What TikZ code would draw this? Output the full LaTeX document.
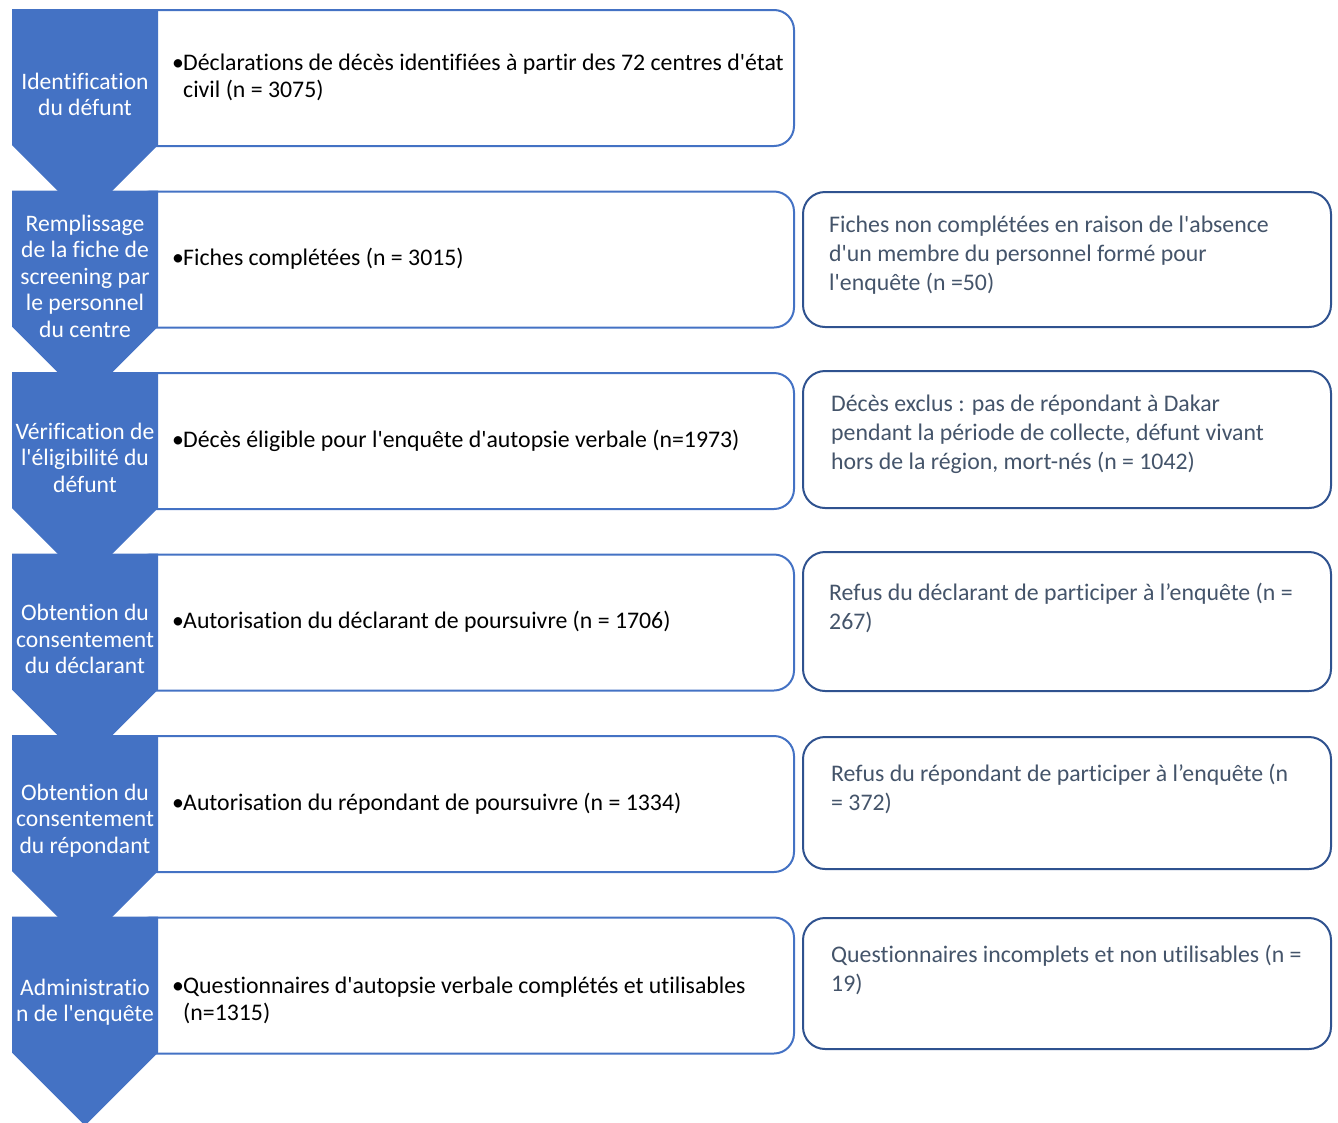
\documentclass[tikz,border=0pt]{standalone}
\usepackage{fontspec}
\setmainfont{Carlito}[Ligatures={TeXOff,NoCommon}]
\usetikzlibrary{positioning,calc}
\definecolor{chevblue}{RGB}{68,114,196}
\definecolor{darkblue}{RGB}{47,82,143}
\definecolor{slate}{RGB}{68,84,106}
\newcommand{\bitem}[1]{\makebox[11pt][l]{\textbullet}\begin{tabular}[t]{@{}l@{}}#1\end{tabular}}

\begin{document}
\begin{tikzpicture}[x=1pt, y=-1pt,
    chevron/.style={fill=chevblue, draw=none},
    steplabel/.style={text=white, align=center, inner sep=0pt, font=\fontsize{23.6}{26.5}\selectfont},
    stepbox/.style={draw=chevblue, line width=2pt, fill=white, rounded corners=20pt, anchor=north west, minimum width=663, minimum height=136},
    itemtext/.style={anchor=west, inner sep=0pt, font=\fontsize{23.8}{27}\selectfont},
    exclbox/.style={draw=darkblue, line width=2pt, fill=white, rounded corners=22pt, anchor=north west, minimum width=528},
    excltext/.style={anchor=north west, align=left, inner sep=0pt, text=slate, font=\fontsize{23.8}{29}\selectfont}
]
\useasboundingbox (0,0) rectangle (1338,1122);

% boites de gauche (le bord gauche passe sous les chevrons)
\foreach \t [count=\i] in {9,190.5,372,553.5,735,916.5}
  \node[stepbox] (box\i) at (130,\t) {};

% boites d'exclusion
\node[exclbox, minimum height=135] (excl2) at (802,191) {};
\node[exclbox, minimum height=137] (excl3) at (802,370) {};
\node[exclbox, minimum height=139] (excl4) at (802,551) {};
\node[exclbox, minimum height=132] (excl5) at (802,736) {};
\node[exclbox, minimum height=131] (excl6) at (802,917) {};

% chevrons
\foreach \t in {9,190.5,372,553.5,735,916.5}
  \fill[chevron] (12,\t) -- (158,\t) -- (158,\t+136) -- (85,\t+209) -- (12,\t+136) -- cycle;

% etapes
\node[steplabel] (lab1) at (85,94.5) {Identification\\du défunt};
\node[steplabel] (lab2) at (85,276) {Remplissage\\de la fiche de\\screening par\\le personnel\\du centre};
\node[steplabel] (lab3) at (85,457.5) {Vérification de\\l'éligibilité du\\défunt};
\node[steplabel] (lab4) at (85,639) {Obtention du\\consentement\\du déclarant};
\node[steplabel] (lab5) at (85,820.5) {Obtention du\\consentement\\du répondant};
\node[steplabel] (lab6) at (85,1002) {Administratio\\n de l'enquête};

% effectifs retenus
\node[itemtext] (item1) at (172,79) {\bitem{Déclarations de décès identifiées à partir des 72 centres d'état\\civil (n = 3075)}};
\node[itemtext] (item2) at (172,260) {\bitem{Fiches complétées (n = 3015)}};
\node[itemtext] (item3) at (172,442) {\bitem{Décès éligible pour l'enquête d'autopsie verbale (n=1973)}};
\node[itemtext] (item4) at (172,623) {\bitem{Autorisation du déclarant de poursuivre (n = 1706)}};
\node[itemtext] (item5) at (172,805) {\bitem{Autorisation du répondant de poursuivre (n = 1334)}};
\node[itemtext] (item6) at (172,1002) {\bitem{Questionnaires d'autopsie verbale complétés et utilisables\\(n=1315)}};

% exclusions
\node[excltext] (out2) at (829,216) {Fiches non complétées en raison de l'absence\\d'un membre du personnel formé pour\\l'enquête (n =50)};
\node[excltext] (out3) at (831,395) {Décès exclus : pas de répondant à Dakar\\pendant la période de collecte, défunt vivant\\hors de la région, mort-nés (n = 1042)};
\node[excltext] (out4) at (829,583) {Refus du déclarant de participer à l’enquête (n =\\267)};
\node[excltext] (out5) at (831,764) {Refus du répondant de participer à l’enquête (n\\= 372)};
\node[excltext] (out6) at (831,945) {Questionnaires incomplets et non utilisables (n =\\19)};
\end{tikzpicture}
\end{document}
